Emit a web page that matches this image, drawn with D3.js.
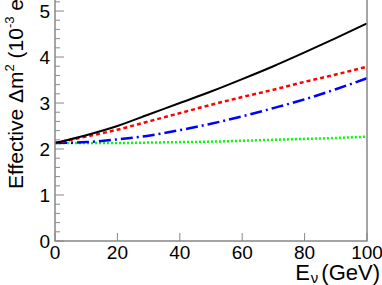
<!DOCTYPE html>
<head>
<meta charset="utf-8">
<style>
body { margin: 0; background: #fff; }
text { font-family: "Liberation Sans", Arial, sans-serif; fill: #000; }
.frame { stroke: #888; stroke-width: 1.5px; fill: none; }
.tick line { stroke: #888; stroke-width: 1px; }
path.curve { fill: none; }
</style>
</head>
<body>
<script src="https://cdn.jsdelivr.net/npm/d3@7"></script>
<script>

// neutrino energy (GeV)
var energy = [0, 10, 20, 30, 40, 50, 60, 70, 80, 90, 100];

// effective delta m^2 in 10^-3 eV^2
var blackVals = [2.13, 2.30, 2.50, 2.75, 3.00, 3.25, 3.52, 3.80, 4.10, 4.41, 4.73];
var redVals   = [2.13, 2.27, 2.42, 2.60, 2.78, 2.96, 3.13, 3.29, 3.46, 3.62, 3.79];
var blueVals  = [2.13, 2.15, 2.21, 2.29, 2.41, 2.55, 2.71, 2.89, 3.08, 3.30, 3.54];
var greenVals = [2.13, 2.13, 2.13, 2.14, 2.15, 2.16, 2.18, 2.20, 2.22, 2.24, 2.27];

var xTicks = [0, 20, 40, 60, 80, 100];
var yTicks = [0, 1, 2, 3, 4, 5];

var series = [
  {vals: blackVals, color: "#000", dash: null, w: 2},
  {vals: redVals, color: "#ff0000", dash: "4,3", w: 2.5},
  {vals: blueVals, color: "#0000ff", dash: "12,4,2,4", w: 2.5},
  {vals: greenVals, color: "#00ff00", dash: "2,2", w: 2.5}
];

var width = 382, height = 285;

var x = d3.scaleLinear().domain([0, 100]).range([55, 367]);
var y = d3.scaleLinear().domain([0, 5.24]).range([241, 0]);

var svg = d3.select("body").append("svg")
    .attr("width", width)
    .attr("height", height);

// curves
var line = d3.line()
    .x(function(d, i) { return x(energy[i]); })
    .y(function(d) { return y(d); })
    .curve(d3.curveMonotoneX);

svg.append("g").selectAll("path")
    .data(series.slice().reverse())
    .enter().append("path")
    .attr("class", "curve")
    .attr("d", function(d) { return line(d.vals); })
    .style("stroke", function(d) { return d.color; })
    .style("stroke-width", function(d) { return d.w; })
    .style("stroke-dasharray", function(d) { return d.dash; });

// y minor ticks every 0.2
var yMinor = d3.range(0, 5.3, 0.2).filter(function(v) { return Math.abs(v - Math.round(v)) > 0.01; });
svg.append("g").attr("class", "tick").selectAll("line")
    .data(yMinor).enter().append("line")
    .attr("x1", x(0)).attr("x2", x(0) + 5)
    .attr("y1", function(d) { return y(d); })
    .attr("y2", function(d) { return y(d); });

svg.append("g").attr("class", "tick").selectAll("line")
    .data(yTicks).enter().append("line")
    .attr("x1", x(0)).attr("x2", x(0) + 9)
    .attr("y1", function(d) { return y(d); })
    .attr("y2", function(d) { return y(d); });

svg.append("g").attr("class", "tick").selectAll("line")
    .data(xTicks).enter().append("line")
    .attr("x1", function(d) { return x(d); })
    .attr("x2", function(d) { return x(d); })
    .attr("y1", y(0)).attr("y2", y(0) - 8);

// frame: left axis, bottom axis, right side
svg.append("path")
    .attr("class", "frame")
    .attr("d", "M" + x(0) + "," + y(5.24) + "V" + y(0) + "H" + x(100) + "V" + y(5.24));

// tick labels
svg.append("g").selectAll("text")
    .data(yTicks).enter().append("text")
    .attr("x", 50)
    .attr("y", function(d) { return y(d); })
    .attr("dy", "0.35em")
    .attr("text-anchor", "end")
    .style("font-size", "19px")
    .text(function(d) { return d; });

svg.append("g").selectAll("text")
    .data(xTicks).enter().append("text")
    .attr("x", function(d) { return x(d); })
    .attr("y", 259)
    .attr("text-anchor", "middle")
    .style("font-size", "19px")
    .text(function(d) { return d; });

// axis titles
var xt = svg.append("text")
    .attr("x", 380)
    .attr("y", 280)
    .attr("text-anchor", "end")
    .style("font-size", "22px");
xt.append("tspan").text("E");
xt.append("tspan").attr("dy", 3).attr("dx", 1).style("font-size", "15px").text("\u03bd");
xt.append("tspan").attr("dy", -3).attr("dx", 3).text("(GeV)");

var yt = svg.append("text")
    .attr("transform", "translate(23,189) rotate(-90)")
    .attr("text-anchor", "start")
    .style("font-size", "21px");
yt.append("tspan").text("Effective \u0394m");
yt.append("tspan").attr("dy", -9).style("font-size", "13px").text("2");
yt.append("tspan").attr("dy", 9).text(" (10");
yt.append("tspan").attr("dy", -9).style("font-size", "13px").text("-3");
yt.append("tspan").attr("dy", 9).text(" eV");
yt.append("tspan").attr("dy", -9).style("font-size", "13px").text("2");
yt.append("tspan").attr("dy", 9).text(")");

</script>
</body>
</html>
